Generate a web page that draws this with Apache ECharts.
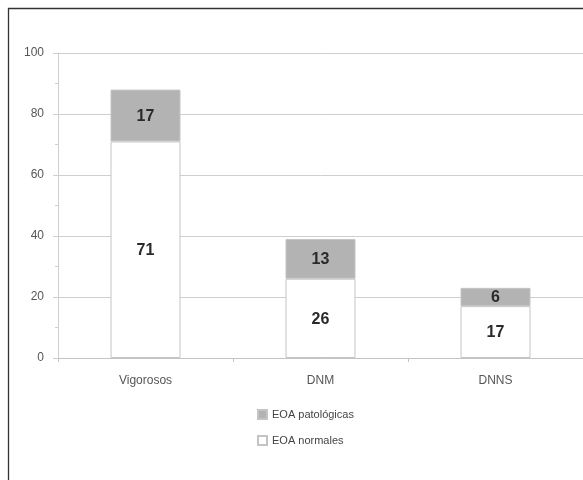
<!DOCTYPE html>
<html><head><meta charset="utf-8">
<script src="https://cdn.jsdelivr.net/npm/echarts@6/dist/echarts.min.js"></script>
<style>html,body{margin:0;padding:0;background:#fff}#c{width:583px;height:480px}</style>
</head><body><div id="c"></div>
<script>
const categories = ['Vigorosos', 'DNM', 'DNNS'];
const normales = [71, 26, 17];
const patologicas = [17, 13, 6];
const seriesNames = ['EOA normales', 'EOA patológicas'];
const yTicks = [0, 20, 40, 60, 80, 100];

const chart = echarts.init(document.getElementById('c'));
const lbl = {show: true, position: 'inside', formatter: '{c}', color: '#2a2a2a', fontSize: 16, fontWeight: 'bold', fontFamily: 'Liberation Sans', offset: [0, 1]};
chart.setOption({
  animation: false,
  graphic: [{type: 'rect', shape: {x: 8.5, y: 8.5, width: 700, height: 600}, style: {fill: 'none', stroke: '#333', lineWidth: 1.3}, z: 100}],
  grid: {left: 58, top: 53, width: 528, height: 305},
  legend: {
    orient: 'vertical', left: 252, top: 404, itemWidth: 9, itemHeight: 9, itemGap: 15, icon: 'rect',
    data: [seriesNames[1], seriesNames[0]],
    textStyle: {fontSize: 11, color: '#444', fontFamily: 'Liberation Sans'}
  },
  xAxis: {
    type: 'category', data: categories,
    axisLine: {lineStyle: {color: '#c4c4c4'}},
    axisTick: {show: true, length: 4, lineStyle: {color: '#c4c4c4'}},
    axisLabel: {margin: 17, fontSize: 12, color: '#555', fontFamily: 'Liberation Sans'}
  },
  yAxis: {
    type: 'value', min: yTicks[0], max: yTicks[yTicks.length - 1], interval: 20,
    axisLine: {show: true, lineStyle: {color: '#cfcfcf'}},
    axisTick: {show: true, length: 5, lineStyle: {color: '#cfcfcf'}},
    minorTick: {show: true, splitNumber: 2, length: 3, lineStyle: {color: '#cfcfcf'}},
    splitLine: {lineStyle: {color: '#cfcfcf'}},
    axisLabel: {margin: 14, fontSize: 12, color: '#555', fontFamily: 'Liberation Sans'}
  },
  series: [
    {name: seriesNames[0], type: 'bar', stack: 's', data: normales, barWidth: '40%',
     itemStyle: {color: '#ffffff', borderColor: '#c4c4c4', borderWidth: 1}, label: lbl},
    {name: seriesNames[1], type: 'bar', stack: 's', data: patologicas, barWidth: '40%',
     itemStyle: {color: '#b3b3b3', borderColor: '#c4c4c4', borderWidth: 1}, label: lbl}
  ]
});
</script></body></html>
